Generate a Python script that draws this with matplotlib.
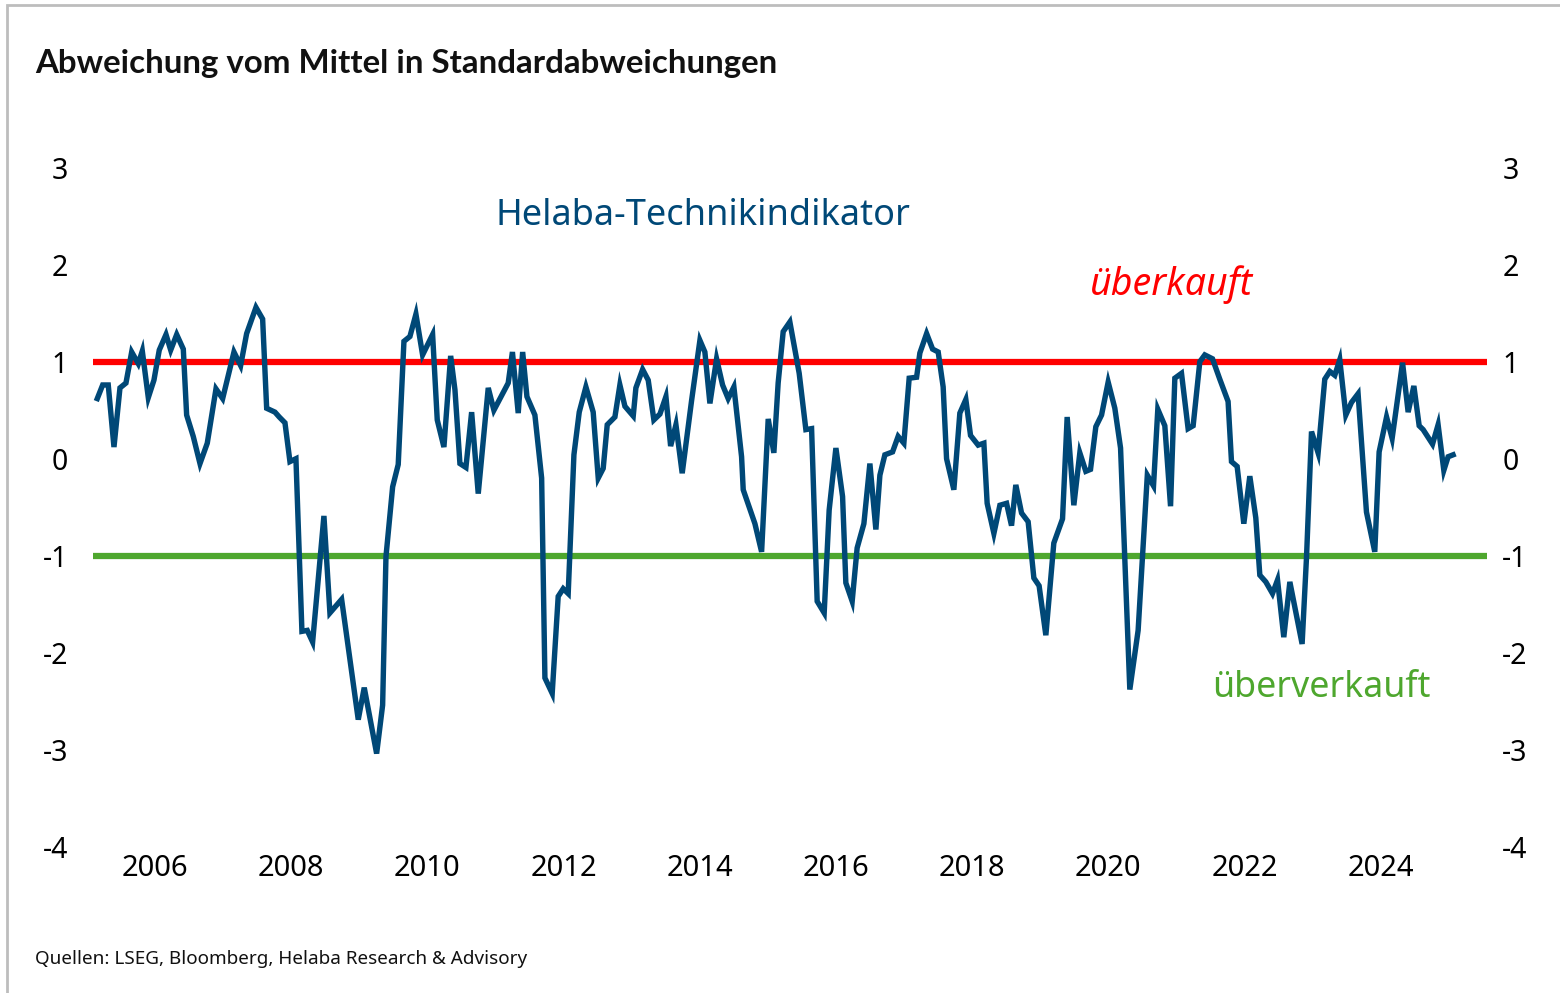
import matplotlib
matplotlib.use("Agg")
import matplotlib.pyplot as plt
from matplotlib.patches import Rectangle

# ---- data (decimal years, indicator values) ----
dates = [2005.153, 2005.232, 2005.314, 2005.398, 2005.486, 2005.574, 2005.658, 2005.755, 2005.814, 2005.902,
         2005.985, 2006.063, 2006.162, 2006.231, 2006.319, 2006.416, 2006.465, 2006.562, 2006.661, 2006.768,
         2006.896, 2006.994, 2007.160, 2007.258, 2007.346, 2007.483, 2007.581, 2007.640, 2007.762, 2007.825,
         2007.909, 2007.982, 2008.070, 2008.158, 2008.236, 2008.315, 2008.481, 2008.569, 2008.741, 2008.985,
         2009.073, 2009.255, 2009.343, 2009.392, 2009.490, 2009.572, 2009.656, 2009.744, 2009.832, 2009.930,
         2010.077, 2010.145, 2010.243, 2010.342, 2010.405, 2010.478, 2010.566, 2010.650, 2010.747, 2010.894,
         2010.977, 2011.187, 2011.249, 2011.334, 2011.399, 2011.462, 2011.579, 2011.678, 2011.726, 2011.833,
         2011.921, 2011.995, 2012.068, 2012.152, 2012.230, 2012.328, 2012.435, 2012.509, 2012.582, 2012.641,
         2012.754, 2012.827, 2012.901, 2013.023, 2013.062, 2013.161, 2013.243, 2013.326, 2013.415, 2013.503,
         2013.572, 2013.650, 2013.742, 2013.880, 2014.002, 2014.075, 2014.149, 2014.247, 2014.335, 2014.417,
         2014.501, 2014.614, 2014.638, 2014.810, 2014.908, 2015.005, 2015.088, 2015.151, 2015.225, 2015.323,
         2015.460, 2015.558, 2015.642, 2015.724, 2015.827, 2015.900, 2015.999, 2016.097, 2016.145, 2016.238,
         2016.311, 2016.410, 2016.498, 2016.586, 2016.645, 2016.718, 2016.831, 2016.913, 2016.997, 2017.075,
         2017.184, 2017.232, 2017.331, 2017.419, 2017.501, 2017.574, 2017.624, 2017.731, 2017.819, 2017.907,
         2017.976, 2018.088, 2018.172, 2018.220, 2018.319, 2018.407, 2018.505, 2018.578, 2018.641, 2018.725,
         2018.822, 2018.906, 2018.983, 2019.082, 2019.199, 2019.327, 2019.395, 2019.493, 2019.581, 2019.669,
         2019.738, 2019.816, 2019.900, 2019.997, 2020.095, 2020.179, 2020.315, 2020.437, 2020.572, 2020.663,
         2020.726, 2020.829, 2020.913, 2020.976, 2021.074, 2021.171, 2021.245, 2021.343, 2021.416, 2021.529,
         2021.636, 2021.758, 2021.808, 2021.891, 2021.989, 2022.077, 2022.165, 2022.224, 2022.312, 2022.410,
         2022.484, 2022.576, 2022.665, 2022.845, 2022.910, 2022.983, 2023.080, 2023.178, 2023.252, 2023.325,
         2023.398, 2023.487, 2023.570, 2023.667, 2023.790, 2023.912, 2023.976, 2024.085, 2024.167, 2024.320,
         2024.402, 2024.486, 2024.564, 2024.622, 2024.760, 2024.842, 2024.926, 2024.989, 2025.062]
indicator = [0.62, 0.76, 0.76, 0.12, 0.73, 0.78, 1.10, 0.98, 1.11, 0.63,
             0.81, 1.12, 1.28, 1.12, 1.28, 1.13, 0.45, 0.23, -0.05, 0.16,
             0.72, 0.62, 1.10, 0.96, 1.29, 1.56, 1.44, 0.52, 0.48, 0.43,
             0.37, -0.03, 0.00, -1.78, -1.77, -1.89, -0.59, -1.59, -1.45, -2.69,
             -2.36, -3.04, -2.54, -1.01, -0.29, -0.06, 1.21, 1.26, 1.49, 1.07,
             1.28, 0.40, 0.12, 1.06, 0.71, -0.05, -0.09, 0.48, -0.36, 0.73,
             0.50, 0.78, 1.10, 0.47, 1.10, 0.64, 0.45, -0.20, -2.26, -2.42,
             -1.42, -1.34, -1.39, 0.04, 0.48, 0.74, 0.48, -0.20, -0.10, 0.35,
             0.43, 0.76, 0.54, 0.44, 0.73, 0.92, 0.81, 0.40, 0.46, 0.64,
             0.13, 0.35, -0.15, 0.60, 1.22, 1.10, 0.57, 1.03, 0.76, 0.62,
             0.74, 0.02, -0.32, -0.67, -0.96, 0.41, 0.06, 0.78, 1.31, 1.41,
             0.88, 0.30, 0.31, -1.47, -1.59, -0.53, 0.11, -0.39, -1.28, -1.47,
             -0.92, -0.67, -0.05, -0.73, -0.17, 0.04, 0.07, 0.23, 0.16, 0.83,
             0.84, 1.09, 1.29, 1.13, 1.10, 0.74, 0.00, -0.32, 0.47, 0.61,
             0.24, 0.14, 0.16, -0.46, -0.77, -0.48, -0.46, -0.69, -0.27, -0.56,
             -0.65, -1.23, -1.31, -1.82, -0.87, -0.62, 0.43, -0.48, 0.06, -0.13,
             -0.11, 0.33, 0.45, 0.79, 0.52, 0.11, -2.38, -1.77, -0.17, -0.28,
             0.51, 0.34, -0.49, 0.83, 0.88, 0.31, 0.34, 1.00, 1.07, 1.03,
             0.82, 0.59, -0.03, -0.08, -0.67, -0.18, -0.61, -1.20, -1.27, -1.39,
             -1.25, -1.84, -1.27, -1.91, -1.01, 0.28, 0.06, 0.82, 0.90, 0.86,
             1.02, 0.45, 0.58, 0.67, -0.55, -0.96, 0.07, 0.43, 0.21, 0.99,
             0.48, 0.75, 0.34, 0.30, 0.15, 0.35, -0.12, 0.02, 0.04]
overbought = 1.0
oversold = -1.0
year_ticks = [2006, 2008, 2010, 2012, 2014, 2016, 2018, 2020, 2022, 2024]
y_ticks = [3, 2, 1, 0, -1, -2, -3, -4]

BLUE = "#004877"
RED = "#FF0000"
GREEN = "#4EA72E"

plt.rcParams['font.family'] = ['Noto Sans', 'DejaVu Sans']

W, H = 1560, 993
fig = plt.figure(figsize=(W / 100, H / 100), dpi=100)
fig.patch.set_facecolor("white")

# frame
fig.patches.append(Rectangle((7 / W, -0.1), 1.2, 1 - 5 / H + 0.1, transform=fig.transFigure,
                             fill=False, edgecolor="#BDBDBD", linewidth=2.0))

ax = fig.add_axes([93 / W, 1 - 846.7 / H, (1487 - 93) / W, (846.7 - 167.7) / H])
ax.set_xlim(2005.09, 2025.56)
ax.set_ylim(-4, 3)
for s in ax.spines.values():
    s.set_visible(False)

ax.axhline(overbought, color=RED, lw=4.5, zorder=2)
ax.axhline(oversold, color=GREEN, lw=4.5, zorder=2)
ax.plot(dates, indicator, color=BLUE, lw=3.9, zorder=3, solid_joinstyle='miter')

ax.set_xticks(year_ticks)
ax.set_xticklabels([str(y) for y in year_ticks])
ax.set_yticks(y_ticks)
ax.set_yticklabels([str(v) for v in y_ticks])
ax.tick_params(axis='x', length=0, pad=5, labelsize=21, colors="black")
ax.tick_params(axis='y', length=0, pad=18, labelsize=20.5, colors="black",
               labelleft=True, labelright=False)

ax2 = ax.twinx()
ax2.set_ylim(-4, 3)
ax2.set_yticks(y_ticks)
ax2.set_yticklabels([str(v) for v in y_ticks])
ax2.tick_params(axis='y', length=0, pad=11, labelsize=20.5, colors="black")
for s in ax2.spines.values():
    s.set_visible(False)

ax.text(2011.0, 2.5, "Helaba-Technikindikator", color=BLUE, fontsize=26, va='center', ha='left')
ax.text(2019.73, 1.8, "überkauft", color=RED, fontsize=27, style='italic', va='center', ha='left')
ax.text(2021.52, -2.36, "überverkauft", color=GREEN, fontsize=25.7, va='center', ha='left')

fig.text(35 / W, 1 - 64 / H, "Abweichung vom Mittel in Standardabweichungen", fontsize=23.8,
         fontweight='bold', family=['Lato', 'DejaVu Sans'], va='center', ha='left', color="#111111")
fig.text(35 / W, 1 - 959 / H, "Quellen: LSEG, Bloomberg, Helaba Research & Advisory", fontsize=13.6,
         va='center', ha='left', color="#111111")

fig.savefig("out.png", dpi=100, facecolor="white")
